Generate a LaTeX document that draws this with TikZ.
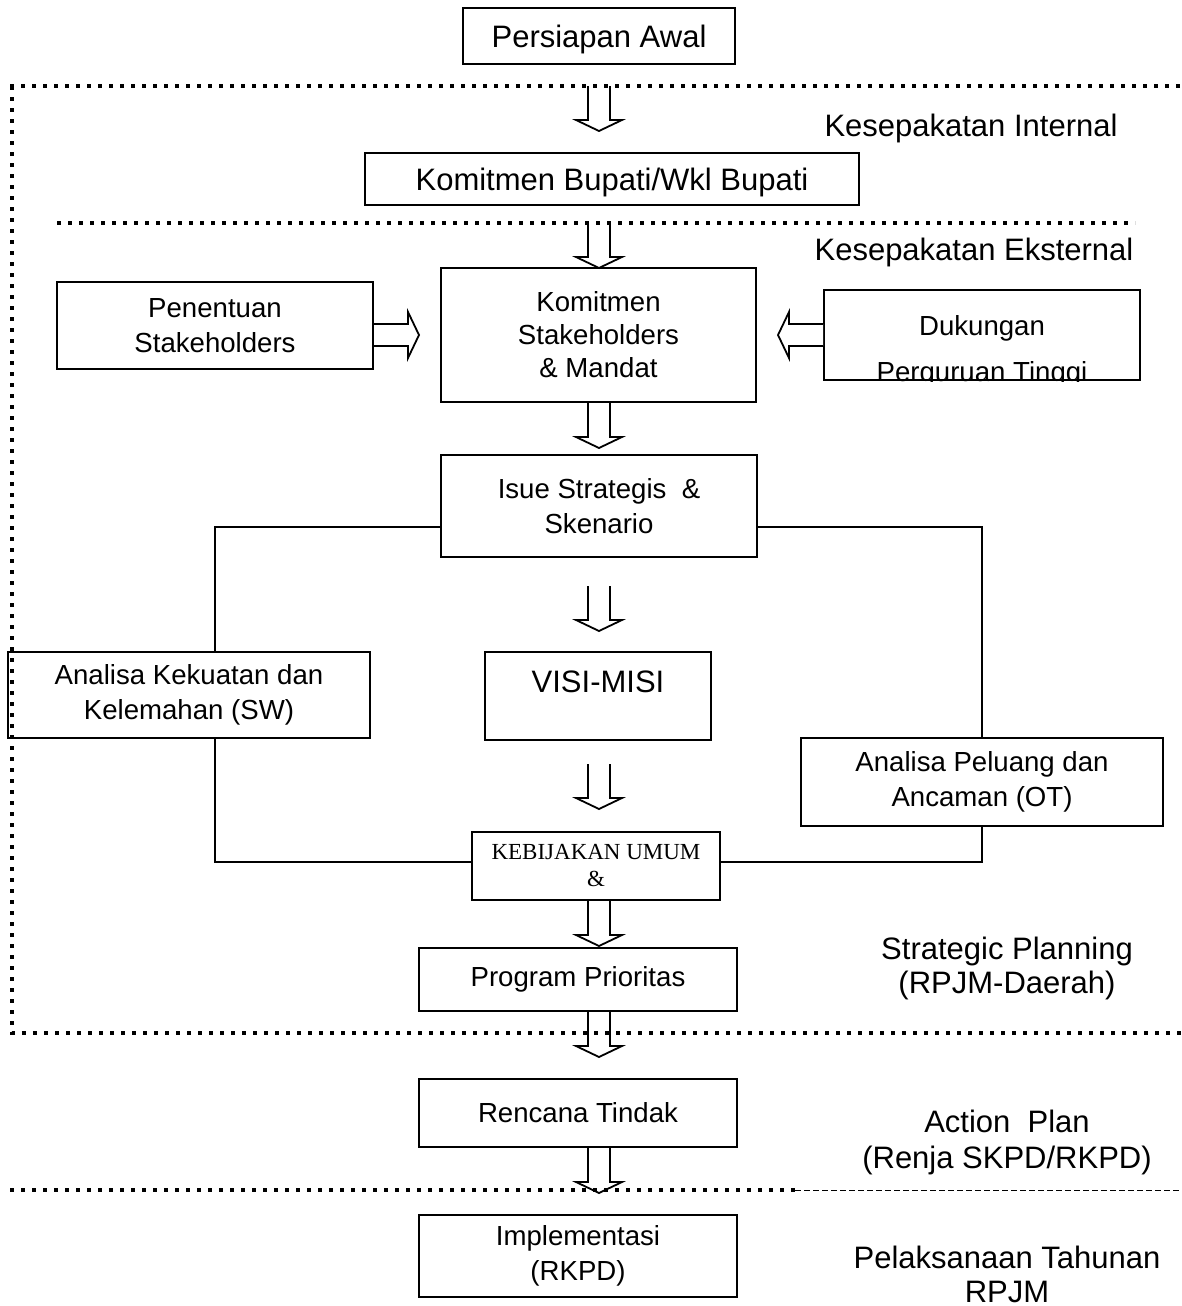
\documentclass[tikz,border=0pt]{standalone}
\usepackage{fontspec}
\setmainfont{Liberation Sans}
\newfontfamily\hurufkeb{Liberation Serif}
\tikzset{
  kotak/.style={draw, line width=1pt, inner sep=0pt, align=center, font=\fontsize{13.8}{17.5}\selectfont},
  besar/.style={font=\fontsize{15.5}{17}\selectfont},
  ket/.style={align=center, font=\fontsize{15.5}{17}\selectfont},
  garis/.style={line width=1pt},
  titik/.style={line width=2.1pt, dash pattern=on 2pt off 3.5pt},
  putus/.style={line width=0.5pt, dash pattern=on 3pt off 1.5pt},
  panah/.pic={\draw[line width=0.9pt, fill=white] (-11,0) -- (-11,34) -- (-23,34) -- (0,45) -- (23,34) -- (11,34) -- (11,0);}
}
\begin{document}
\begin{tikzpicture}[x=0.5pt, y=-0.5pt]
  \useasboundingbox (0,0) rectangle (1182,1306);
  \coordinate (poros) at (599,0);
  \coordinate (batas1) at (0,86);
  \coordinate (batas2) at (0,223);

  \node[kotak, besar, text height=15pt, minimum width=136pt, minimum height=28pt] (awal) at (599,36) {Persiapan Awal};
  \node[kotak, besar, text height=15pt, minimum width=247pt, minimum height=26pt] (bupati) at (612,179) {Komitmen Bupati/Wkl Bupati};
  \node[kotak, minimum width=158pt, minimum height=43.5pt] (penentuan) at (215,325.5) {Penentuan\\Stakeholders};
  \node[kotak, font=\fontsize{13.8}{16.5}\selectfont, minimum width=157.5pt, minimum height=67pt] (mandat) at (598.5,335) {Komitmen\\Stakeholders\\\& Mandat};
  \node[kotak, minimum width=158pt, minimum height=45pt] (dukungan) at (982,335) {};
  \begin{scope}
    \clip (dukungan.north west) rectangle (dukungan.south east);
    \node[anchor=base, font=\fontsize{13.8}{17.5}\selectfont] (dukungan1) at (982,335) {Dukungan};
    \node[anchor=base, font=\fontsize{13.8}{17.5}\selectfont] (dukungan2) at (982,381) {Perguruan Tinggi};
  \end{scope}
  \node[kotak, minimum width=158pt, minimum height=51pt] (isue) at (599,506) {Isue Strategis\ \ \&\\Skenario};
  \node[kotak, minimum width=181pt, minimum height=43pt] (analisaSW) at (189,695) {Analisa Kekuatan dan\\Kelemahan (SW)};
  \node[kotak, besar, text depth=14pt, minimum width=113pt, minimum height=44pt] (visimisi) at (598,696) {VISI-MISI};
  \node[kotak, minimum width=181pt, minimum height=44pt] (analisaOT) at (982,782) {Analisa Peluang dan\\Ancaman (OT)};
  \node[kotak, font=\hurufkeb\fontsize{11.5}{13.5}\selectfont, minimum width=124pt, minimum height=34pt] (kebijakan) at (596,866) {KEBIJAKAN UMUM\\\&};
  \node[kotak, minimum width=159pt, minimum height=31.5pt] (program) at (578,979.5) {Program Prioritas};
  \node[kotak, minimum width=159pt, minimum height=34pt] (rencana) at (578,1113) {Rencana Tindak};
  \node[kotak, minimum width=159pt, minimum height=41pt] (implementasi) at (578,1256) {Implementasi\\(RKPD)};

  \node[ket] (internal) at (971,128) {Kesepakatan Internal};
  \node[ket] (eksternal) at (974,252) {Kesepakatan Eksternal};
  \node[ket] (strategic) at (1007,968) {Strategic Planning\\(RPJM-Daerah)};
  \node[ket, font=\fontsize{15.5}{18}\selectfont] (action) at (1007,1142) {Action\ \ Plan\\(Renja SKPD/RKPD)};
  \node[ket] (pelaksanaan) at (1007,1274) {Pelaksanaan Tahunan\\RPJM};

  \draw[garis] ([yshift=-10.5pt]isue.west) -| ([xshift=13pt]analisaSW.north);
  \draw[garis] ([yshift=-10.5pt]isue.east) -| (analisaOT.north);
  \draw[garis] ([xshift=13pt]analisaSW.south) |- ([yshift=2pt]kebijakan.west);
  \draw[garis] (analisaOT.south) |- ([yshift=2pt]kebijakan.east);

  \pic at (poros |- batas1) {panah};
  \pic at (poros |- batas2) {panah};
  \pic[rotate=90] at (penentuan.east |- mandat.center) {panah};
  \pic[rotate=-90] at (dukungan.west |- mandat.center) {panah};
  \pic at (poros |- mandat.south) {panah};
  \pic at ([yshift=-14pt]poros |- isue.south) {panah};
  \pic at ([yshift=-11.5pt]poros |- visimisi.south) {panah};
  \pic at (poros |- kebijakan.south) {panah};
  \pic at (poros |- program.south) {panah};
  \pic at (poros |- rencana.south) {panah};

  \draw[titik] (10,86) -- (1182,86);
  \draw[titik] (12,86) -- (12,1033) -- (1182,1033);
  \draw[titik] (57,223) -- (1135,223);
  \draw[titik] (10,1190) -- (795,1190);
  \draw[putus] (795,1190) -- (1182,1190);
\end{tikzpicture}
\end{document}
